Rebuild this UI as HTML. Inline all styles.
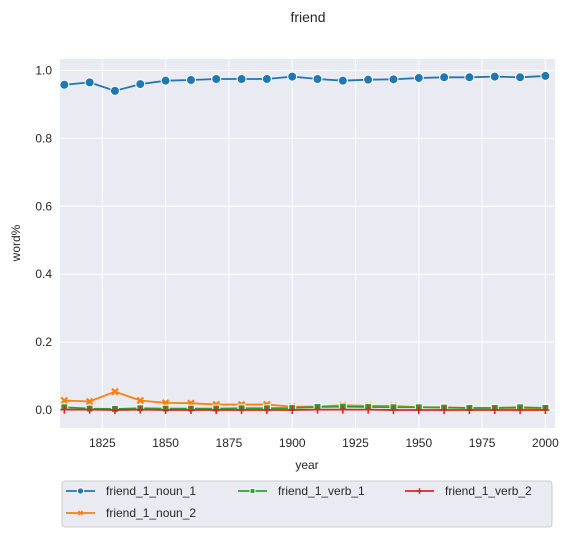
<!DOCTYPE html>
<html><head><meta charset="utf-8"><style>
body{margin:0;background:#fff;font-family:"Liberation Sans",Arial,sans-serif;}
svg text{font-family:"Liberation Sans",Arial,sans-serif;fill:#262626;}
</style></head><body>
<svg id="chart" width="575" height="537" xmlns="http://www.w3.org/2000/svg">
<text x="308" y="22" font-size="14" text-anchor="middle">friend</text>
<rect x="60" y="59" width="495" height="369" fill="#eaeaf2"/>
<g id="grid"></g><g id="ticks"></g><g id="series"></g>
<text x="307" y="469" font-size="12" text-anchor="middle">year</text>
<text transform="translate(20,243) rotate(-90)" font-size="12" text-anchor="middle">word%</text>
<g id="legend">
<rect x="62" y="481" width="490" height="46" rx="3" fill="#eaeaf2" stroke="#cccccc" stroke-width="1"/>
</g>
</svg>
<script>
const years=[1810,1820,1830,1840,1850,1860,1870,1880,1890,1900,1910,1920,1930,1940,1950,1960,1970,1980,1990,2000];
const noun1=[.958,.965,.94,.96,.97,.972,.975,.975,.975,.982,.975,.97,.973,.974,.978,.98,.98,.982,.98,.984];
const noun2=[.028,.025,.054,.028,.021,.02,.016,.016,.016,.01,.01,.014,.012,.012,.008,.008,.006,.006,.006,.004];
const verb1=[.008,.004,.003,.005,.004,.004,.004,.005,.005,.006,.009,.01,.009,.008,.008,.007,.006,.006,.008,.006];
const verb2=[.001,.001,0,.001,0,0,0,0,0,0,.001,.001,.001,0,0,0,0,0,0,0];
const xTicks=[1825,1850,1875,1900,1925,1950,1975,2000];
const yTicks=[0,0.2,0.4,0.6,0.8,1.0];
const names=["friend_1_noun_1","friend_1_noun_2","friend_1_verb_1","friend_1_verb_2"];
const NS="http://www.w3.org/2000/svg";
const X=v=>102.3+(v-1825)*63.3/25;
const Y=v=>410-v*339.5;
function el(t,a,p){const e=document.createElementNS(NS,t);for(const k in a)e.setAttribute(k,a[k]);p.appendChild(e);return e;}
const grid=document.getElementById('grid'),ticks=document.getElementById('ticks'),ser=document.getElementById('series');
xTicks.forEach(t=>{const l=el('line',{x1:X(t),x2:X(t),y1:59,y2:428,stroke:'#fff','stroke-width':1},grid);

const tx=el('text',{x:X(t),y:447,'font-size':12,'text-anchor':'middle'},ticks);tx.textContent=t;
});
yTicks.forEach(t=>{const l=el('line',{x1:60,x2:555,y1:Y(t),y2:Y(t),stroke:'#fff','stroke-width':1},grid);

const tx=el('text',{x:52,y:Y(t)+4,'font-size':12,'text-anchor':'end'},ticks);tx.textContent=t.toFixed(1);
});
const cols=['#1f77b4','#ff7f0e','#2ca02c','#d62728'];
function marker(k,x,y,g,s){const c=cols[k];
 if(k==0)return el('circle',{cx:x,cy:y,r:4.5*s,fill:c,stroke:'#fff','stroke-width':1},g);
 if(k==1)return el('path',{d:`M${x-3*s},${y-3*s}L${x+3*s},${y+3*s}M${x-3*s},${y+3*s}L${x+3*s},${y-3*s}`,stroke:c,'stroke-width':2.2*s},g);
 if(k==2)return el('rect',{x:x-3.5*s,y:y-3.5*s,width:7*s,height:7*s,fill:c,stroke:'#fff','stroke-width':1},g);
 return el('path',{d:`M${x-4*s},${y}L${x+4*s},${y}M${x},${y-4*s}L${x},${y+4*s}`,stroke:c,'stroke-width':1.6},g);}
[noun1,noun2,verb1,verb2].forEach((d,k)=>{
 const g=el('g',{},ser);
 const p=el('polyline',{points:d.map((v,i)=>X(years[i])+','+Y(v)).join(' '),fill:'none',stroke:cols[k],'stroke-width':1.8},g);
 
 d.forEach((v,i)=>{const m=marker(k,X(years[i]),Y(v),g,1);});
});
const leg=document.getElementById('legend');
const pos=[[66,491],[66,513],[238,491],[405,491]];
names.forEach((n,k)=>{const [x,y]=pos[k];
 const g=el('g',{},leg);
 el('line',{x1:x,x2:x+29,y1:y,y2:y,stroke:cols[k],'stroke-width':1.8},g);
 marker(k,x+14.5,y,g,0.7);
 const t=el('text',{x:x+40,y:y+4,'font-size':12},g);t.textContent=n;});
</script>
</body></html>
